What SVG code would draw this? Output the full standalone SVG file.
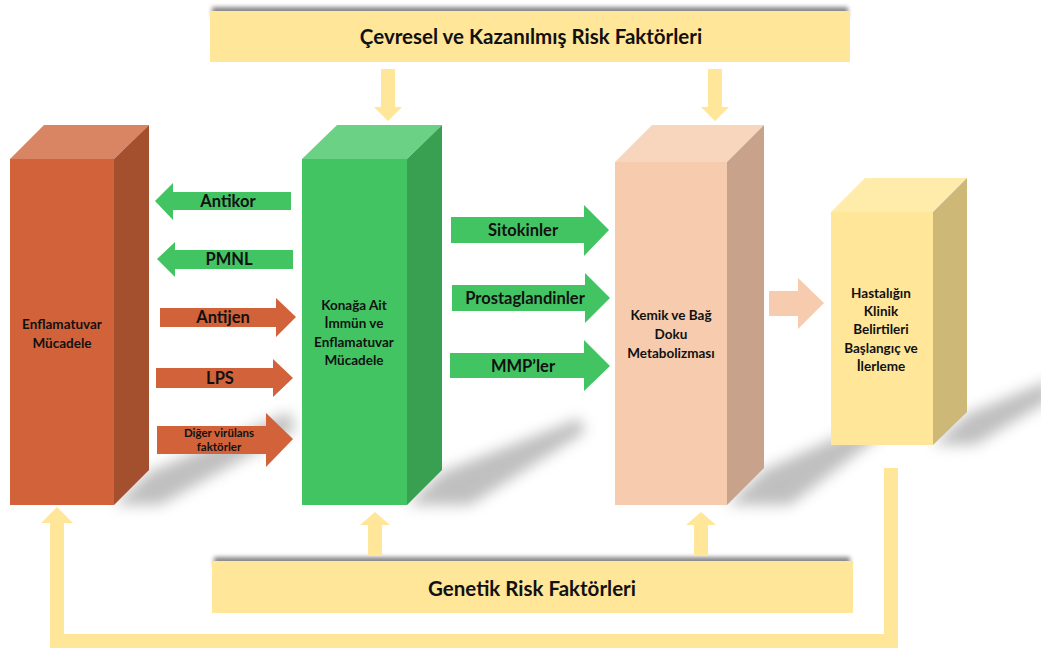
<svg xmlns="http://www.w3.org/2000/svg" width="1041" height="650" viewBox="0 0 1041 650">
<defs>
<filter id="blur" x="-30%" y="-30%" width="160%" height="160%"><feGaussianBlur stdDeviation="7"/></filter>
<filter id="blur2" x="-10%" y="-100%" width="120%" height="300%"><feGaussianBlur stdDeviation="2"/></filter>
<style>
text{font-family:Lato,"Liberation Sans",sans-serif;font-weight:bold;fill:#111;text-anchor:middle}
.t12{font-size:13.5px}
.t15{font-size:16.5px}
.t11{font-size:11.5px}
.t19{font-size:20.5px}
.shadow{fill:#959595;opacity:0.6;filter:url(#blur)}
.bshadow{fill:#888;filter:url(#blur2)}
.banner{fill:#FFE699}
.ga{fill:#43C463}
.oa{fill:#D2623A}
.ya{fill:#FFE699}
</style>
</defs>
<g id="shadows">
<polygon class="shadow" points="149,472 290,412 295,430 160,505 114,505"/>
<polygon class="shadow" points="442,472 580,418 585,432 470,505 407,505"/>
<polygon class="shadow" points="764,470 880,418 885,432 790,505 727,505"/>
<polygon class="shadow" points="967,414 1050,380 1050,400 975,445 933,445"/>
</g>
<g id="top-banner">
<rect class="bshadow" x="212" y="7" width="636" height="10"/>
<rect class="banner" x="210" y="11" width="640" height="51"/>
<text class="t19" x="531" y="44">Çevresel ve Kazanılmış Risk Faktörleri</text>
</g>
<g id="bottom-banner">
<rect class="bshadow" x="214" y="557" width="636" height="10"/>
<rect class="banner" x="212" y="561" width="641" height="52"/>
<text class="t19" x="532" y="596">Genetik Risk Faktörleri</text>
</g>
<g id="node-enflamatuvar">
<polygon fill="#D98462" points="10,159 44,125 149,125 114,159"/>
<polygon fill="#A44F2E" points="114,159 149,125 149,470 114,505"/>
<rect fill="#D2623A" x="10" y="159" width="104" height="346"/>
<text class="t12" x="62" y="329">Enflamatuvar</text>
<text class="t12" x="62" y="348">Mücadele</text>
</g>
<g id="node-konak">
<polygon fill="#6BD184" points="302,159 337,125 442,125 407,159"/>
<polygon fill="#38A050" points="407,159 442,125 442,470 407,505"/>
<rect fill="#43C463" x="302" y="159" width="105" height="346"/>
<text class="t12" x="354" y="310">Konağa Ait</text>
<text class="t12" x="354" y="328">İmmün ve</text>
<text class="t12" x="354" y="347">Enflamatuvar</text>
<text class="t12" x="354" y="365">Mücadele</text>
</g>
<g id="node-kemik">
<polygon fill="#F8D6BE" points="615,162 652,125 764,125 727,162"/>
<polygon fill="#C8A28A" points="727,162 764,125 764,468 727,505"/>
<rect fill="#F7CBAD" x="615" y="162" width="112" height="343"/>
<text class="t12" x="671" y="320">Kemik ve Bağ</text>
<text class="t12" x="671" y="339">Doku</text>
<text class="t12" x="671" y="358">Metabolizması</text>
</g>
<g id="node-hastalik">
<polygon fill="#FFEBAA" points="831,212 865,178 967,178 933,212"/>
<polygon fill="#CDB878" points="933,212 967,178 967,412 933,445"/>
<rect fill="#FFE699" x="831" y="212" width="102" height="233"/>
<text class="t12" x="881" y="298">Hastalığın</text>
<text class="t12" x="881" y="316">Klinik</text>
<text class="t12" x="881" y="334">Belirtileri</text>
<text class="t12" x="881" y="353">Başlangıç ve</text>
<text class="t12" x="881" y="371">İlerleme</text>
</g>
<g id="connectors">
<polygon class="ya" points="381,69 395,69 395,107 402,107 388,121 374,107 381,107"/>
<polygon class="ya" points="708,69 722,69 722,107 729,107 715,121 701,107 708,107"/>
<polygon class="ya" points="368,556 382,556 382,525 390,525 375,512 360,525 368,525"/>
<polygon class="ya" points="694,556 708,556 708,525 716,525 701,512 686,525 694,525"/>
<path d="M891,468 V641 H57 V521" fill="none" stroke="#FFE699" stroke-width="14"/>
<polygon class="ya" points="41,523 73,523 57,507"/>
<g id="arrow-antikor">
<polygon class="ga" points="291,192 291,210 173,210 173,220 155,201 173,183 173,192"/>
<text class="t15" x="228" y="207">Antikor</text>
</g>
<g id="arrow-pmnl">
<polygon class="ga" points="293,250 293,269 175,269 175,277 157,259 175,242 175,250"/>
<text class="t15" x="229" y="265">PMNL</text>
</g>
<g id="arrow-antijen">
<polygon class="oa" points="160,308 276,308 276,298 296,317 276,337 276,327 160,327"/>
<text class="t15" x="223" y="323">Antijen</text>
</g>
<g id="arrow-lps">
<polygon class="oa" points="156,368 273,368 273,359 293,378 273,397 273,388 156,388"/>
<text class="t15" x="220" y="384">LPS</text>
</g>
<g id="arrow-diger">
<polygon class="oa" points="157,426 266,426 266,413 293,439 266,467 266,454 157,454"/>
<text class="t11" x="219" y="437">Diğer virülans</text>
<text class="t11" x="219" y="451">faktörler</text>
</g>
<g id="arrow-sitokinler">
<polygon class="ga" points="451,217 584,217 584,205 609,230 584,256 584,243 451,243"/>
<text class="t15" x="523" y="236">Sitokinler</text>
</g>
<g id="arrow-prostaglandinler">
<polygon class="ga" points="452,285 585,285 585,273 610,298 585,323 585,311 452,311"/>
<text class="t15" x="525" y="304">Prostaglandinler</text>
</g>
<g id="arrow-mmp">
<polygon class="ga" points="450,353 584,353 584,340 610,366 584,391 584,378 450,378"/>
<text class="t15" x="523" y="372">MMP’ler</text>
</g>
<polygon fill="#F7CBAD" points="769,291 798,291 798,278 824,303 798,329 798,316 769,316"/>
</g>
</svg>
